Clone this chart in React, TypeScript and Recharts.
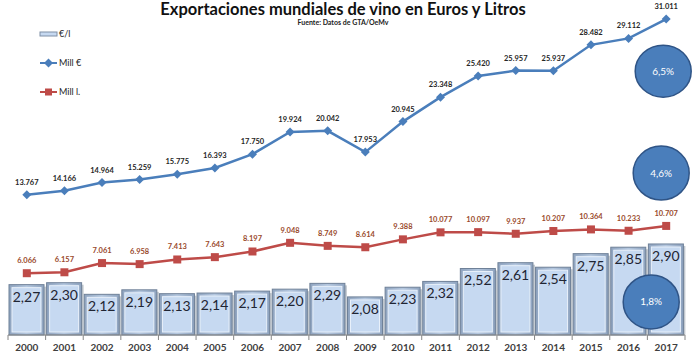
import { Bar, ComposedChart, LabelList, Legend, Line, ReferenceDot, XAxis, YAxis } from 'recharts';

const YEARS = ['2000', '2001', '2002', '2003', '2004', '2005', '2006', '2007', '2008', '2009', '2010', '2011', '2012', '2013', '2014', '2015', '2016', '2017'];
const EURO_PER_LITRE = [2.27, 2.30, 2.12, 2.19, 2.13, 2.14, 2.17, 2.20, 2.29, 2.08, 2.23, 2.32, 2.52, 2.61, 2.54, 2.75, 2.85, 2.90];
const MILL_EURO = [13767, 14166, 14964, 15259, 15775, 16393, 17750, 19924, 20042, 17953, 20945, 23348, 25420, 25957, 25937, 28482, 29112, 31011];
const MILL_LITRE = [6066, 6157, 7061, 6958, 7413, 7643, 8197, 9048, 8749, 8614, 9388, 10077, 10097, 9937, 10207, 10364, 10233, 10707];

// growth bubbles: label, height on the line axis, shift from the 2017 slot
const BUBBLES = [
  { label: '6,5%', y: 25900, dx: -3, rx: 28, ry: 26 },
  { label: '4,6%', y: 15900, dx: -5, rx: 28, ry: 27 },
  { label: '1,8%', y: 3240, dx: -15, rx: 28, ry: 27 },
];

const data = YEARS.map((year, i) => ({
  year,
  ratio: EURO_PER_LITRE[i],
  euro: MILL_EURO[i],
  litre: MILL_LITRE[i],
}));

const W = 700;
const H = 361;
const MARGIN = { top: 9, right: 15, bottom: 0, left: 8 };
const BAND = (W - MARGIN.left - MARGIN.right) / YEARS.length;
const FONT = 'Lato, "Open Sans", sans-serif';
const BLUE = '#4a7ebb';
const RED = '#be4b48';

const thousands = (v: number) => {
  const s = String(Math.round(v));
  return s.length > 3 ? `${s.slice(0, -3)}.${s.slice(-3)}` : s;
};

function BarShape(props: any) {
  const { x, y, width, height } = props;
  if (!height || height <= 0) return null;
  return (
    <g>
      <rect x={x + 2} y={y + 2} width={width} height={height - 2} fill="#9aa3ad" opacity={0.6} />
      <rect x={x} y={y} width={width} height={height} fill="url(#barEdge)" stroke="#6f8198" strokeWidth={1} />
      <rect x={x + 3} y={y + 3} width={width - 6} height={height - 6} fill="#c6d9f1" stroke="#e8f0fa" strokeWidth={1} />
    </g>
  );
}

function Diamond(props: any) {
  const { cx, cy } = props;
  if (cx == null || cy == null) return null;
  const r = 4.5;
  return <polygon points={`${cx},${cy - r} ${cx + r},${cy} ${cx},${cy + r} ${cx - r},${cy}`} fill={BLUE} />;
}

function Square(props: any) {
  const { cx, cy } = props;
  if (cx == null || cy == null) return null;
  return <rect x={cx - 4} y={cy - 4} width={8} height={8} fill={RED} />;
}

function YearTick(props: any) {
  const { x, y, payload, index } = props;
  const top = y - 8;
  return (
    <g>
      <line x1={x - BAND / 2} y1={top} x2={x - BAND / 2} y2={top + 5} stroke="#868686" />
      {index === YEARS.length - 1 && (
        <line x1={x + BAND / 2} y1={top} x2={x + BAND / 2} y2={top + 5} stroke="#868686" />
      )}
      <text x={x} y={y + 8} textAnchor="middle" fontSize={10} fontWeight={700} fill="#404040" fontFamily={FONT}>
        {payload.value}
      </text>
    </g>
  );
}

function LegendBox() {
  const items = [
    { label: '€/l', kind: 'bar' },
    { label: 'Mill €', kind: 'euro' },
    { label: 'Mill l.', kind: 'litre' },
  ];
  return (
    <svg width={80} height={86}>
      {items.map((it, i) => {
        const cy = 9 + i * 29;
        return (
          <g key={it.label}>
            {it.kind === 'bar' && <rect x={1} y={cy - 2} width={17} height={4} fill="#c6d9f1" stroke="#7f8fa6" />}
            {it.kind === 'euro' && (
              <g>
                <line x1={1} y1={cy} x2={18} y2={cy} stroke={BLUE} strokeWidth={2} />
                <Diamond cx={9.5} cy={cy} />
              </g>
            )}
            {it.kind === 'litre' && (
              <g>
                <line x1={1} y1={cy} x2={18} y2={cy} stroke={RED} strokeWidth={2} />
                <rect x={6} y={cy - 3.5} width={7} height={7} fill={RED} />
              </g>
            )}
            <text x={20} y={cy + 3} fontSize={9} fill="#262626" fontFamily={FONT}>{it.label}</text>
          </g>
        );
      })}
    </svg>
  );
}

function Bubble(props: any) {
  const { cx, cy, b } = props;
  if (cx == null || cy == null) return null;
  const x = cx + b.dx;
  return (
    <g>
      <ellipse cx={x} cy={cy} rx={b.rx} ry={b.ry} fill={BLUE} stroke="#2f5486" strokeWidth={1.5} />
      <text x={x} y={cy + 3.5} textAnchor="middle" fontSize={10} fill="#ffffff" fontFamily={FONT}>{b.label}</text>
    </g>
  );
}

export default function App() {
  return (
    <div style={{ position: 'absolute', left: 0, top: 0, width: W, height: H, background: '#fff', fontFamily: FONT }}>
      <div style={{ position: 'absolute', left: 0, top: -1, width: 686, textAlign: 'center', fontSize: 16.5, fontWeight: 700, color: '#111', lineHeight: '20px' }}>
        Exportaciones mundiales de vino en Euros y Litros
      </div>
      <div style={{ position: 'absolute', left: 0, top: 18, width: 686, textAlign: 'center', fontSize: 7, fontWeight: 700, color: '#222', lineHeight: '9px' }}>
        Fuente: Datos de GTA/OeMv
      </div>
      <ComposedChart width={W} height={H} data={data} margin={MARGIN} barCategoryGap={3}>
        <defs>
          <linearGradient id="barEdge" x1="0" y1="0" x2="1" y2="0">
            <stop offset="0%" stopColor="#8ea3bf" />
            <stop offset="50%" stopColor="#b4c7df" />
            <stop offset="100%" stopColor="#8ea3bf" />
          </linearGradient>
        </defs>
        <XAxis
          dataKey="year"
          height={26}
          axisLine={{ stroke: '#868686' }}
          tickLine={false}
          tick={<YearTick />}
          interval={0}
        />
        <YAxis yAxisId="bar" hide domain={[1.49, 6.54]} />
        <YAxis yAxisId="line" hide domain={[0, 32000]} />
        <Legend
          layout="vertical"
          align="center"
          verticalAlign="middle"
          wrapperStyle={{ left: 39, top: 25, width: 80, height: 86 }}
          content={() => <LegendBox />}
        />
        <Bar yAxisId="bar" dataKey="ratio" barSize={35} shape={<BarShape />} isAnimationActive={false}>
          <LabelList
            dataKey="ratio"
            position="insideTop"
            offset={7}
            formatter={(v: any) => Number(v).toFixed(2).replace('.', ',')}
            style={{ fontSize: 14, fill: '#1f2533', fontFamily: FONT }}
          />
        </Bar>
        <Line
          yAxisId="line"
          dataKey="euro"
          stroke={BLUE}
          strokeWidth={2.5}
          dot={<Diamond />}
          activeDot={false}
          isAnimationActive={false}
        >
          <LabelList dataKey="euro" position="top" offset={10} formatter={(v: any) => thousands(Number(v))} style={{ fontSize: 7.5, fontWeight: 700, fill: '#262626', fontFamily: FONT }} />
        </Line>
        <Line
          yAxisId="line"
          dataKey="litre"
          stroke={RED}
          strokeWidth={2.5}
          dot={<Square />}
          activeDot={false}
          isAnimationActive={false}
        >
          <LabelList dataKey="litre" position="top" offset={10} formatter={(v: any) => thousands(Number(v))} style={{ fontSize: 7.5, fontWeight: 700, fill: '#9a4a2c', fontFamily: FONT }} />
        </Line>
        {BUBBLES.map(b => (
          <ReferenceDot key={b.label} yAxisId="line" x="2017" y={b.y} r={0} shape={(p: any) => <Bubble {...p} b={b} />} />
        ))}
      </ComposedChart>
    </div>
  );
}
